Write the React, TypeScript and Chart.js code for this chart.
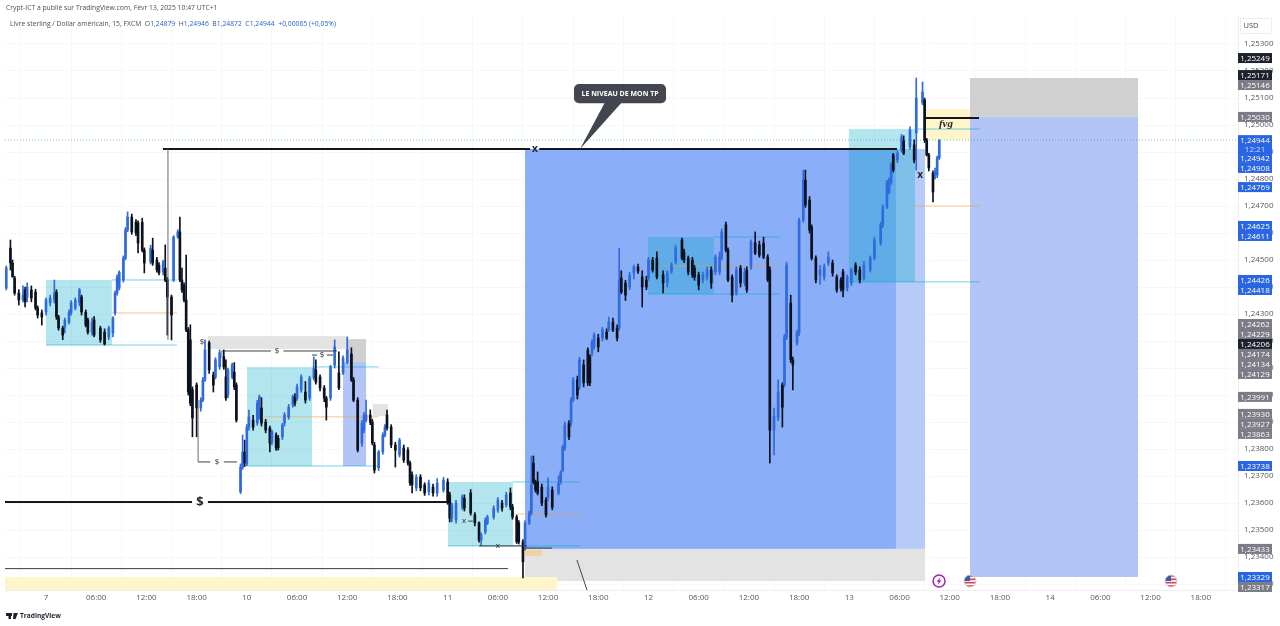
import React, { useEffect, useRef } from "react";
import { Chart, registerables } from "chart.js";

Chart.register(...registerables);

// Every price below is stored in points above 1.00000 (24537 = 1,24537).
// Bars are 15-minute bars counted from Feb 7 00:00: [bar, open, high, low, close]
type Candle = [number, number, number, number, number];

const feb7Candles: Candle[] = [
  [-19,24396,24478,24389,24470],[-17,24544,24574,24463,24489],[-16,24489,24500,24437,24437],[-15,24433,24440,24370,24378],
  [-13,24378,24390,24333,24352],[-11,24352,24404,24345,24370],[-10,24389,24400,24326,24345],[-9,24363,24415,24345,24400],
  [-7,24389,24404,24345,24359],[-5,24381,24392,24315,24322],[-4,24322,24330,24285,24296],[-2,24304,24315,24259,24289],
  [0,24307,24360,24296,24352],[2,24341,24370,24330,24359],[4,24352,24426,24341,24378],[5,24381,24390,24280,24289],
  [6,24289,24295,24240,24248],[8,24248,24255,24205,24222],[9,24252,24285,24230,24278],[11,24270,24315,24262,24307],
  [12,24304,24350,24296,24341],[14,24322,24360,24315,24352],[16,24341,24395,24330,24389],[17,24363,24370,24296,24307],
  [19,24307,24315,24252,24259],[20,24278,24285,24225,24233],[22,24233,24285,24222,24270],[23,24278,24290,24215,24222],
  [26,24248,24255,24195,24204],[28,24233,24245,24185,24189],[30,24215,24255,24205,24248],[32,24230,24290,24215,24285],
  [33,24304,24385,24296,24378],[34,24378,24445,24370,24437],[35,24396,24460,24389,24455],[37,24426,24515,24418,24507],
  [38,24507,24620,24500,24611],[39,24611,24678,24605,24659],[41,24659,24670,24595,24604],[43,24640,24650,24590,24600],
  [44,24637,24645,24526,24563],[46,24640,24655,24530,24537],[47,24537,24545,24452,24489],[50,24493,24555,24485,24544],
  [51,24537,24581,24480,24489],[53,24500,24510,24455,24463],[54,24481,24490,24445,24452],[56,24456,24500,24445,24493],
  [57,24470,24556,24420,24426],[58,24426,24435,24222,24363],[60,24363,24370,24204,24296],[61,24426,24590,24420,24585],
  [63,24585,24612,24580,24604],[64,24604,24659,24420,24426],[65,24426,24470,24380,24389],[66,24407,24415,24345,24352],
  [67,24352,24518,24235,24241],[68,24241,24250,24000,24011],[69,24204,24260,23960,23970],[70,24019,24030,23845,23915],
  [72,24037,24045,23845,23952],[74,23952,23990,23940,23981],[75,23981,24065,23975,24056],[76,24056,24204,24050,24167],
  [78,24193,24200,24080,24093],[80,24074,24085,24011,24037],[81,24067,24138,24060,24130],[83,24104,24167,24095,24156],
  [85,24141,24167,24095,24104],[86,24067,24130,23980,23989],[87,24000,24100,23990,24093],[89,24067,24118,24060,24111],
  [90,24085,24120,24020,24030],[91,24037,24045,23900,23907],
];

const feb10Candles: Candle[] = [
  [93,23641,23745,23635,23733],[94,23733,23852,23725,23789],[95,23789,23833,23735,23748],[96,23745,23890,23738,23881],
  [97,23881,23944,23870,23918],[99,23907,23925,23870,23881],[101,23896,23980,23888,23970],[102,23918,24000,23910,23993],
  [103,23952,23990,23885,23896],[105,23900,23910,23860,23870],[107,23878,23885,23789,23822],[108,23826,23870,23815,23863],
  [110,23852,23860,23795,23804],[111,23840,23850,23796,23804],[113,23845,23895,23835,23889],[114,23896,23935,23885,23926],
  [116,23918,23965,23910,23955],[118,23963,24000,23955,23993],[119,23993,24005,23960,23970],[120,23989,24040,23980,24030],
  [122,24019,24075,24010,24067],[124,24011,24050,23970,23981],[126,23989,24070,23980,24063],[128,24063,24141,24055,24100],
  [129,24093,24130,24040,24048],[131,24067,24075,24015,24026],[133,24026,24035,23975,23989],[134,23989,23995,23907,23955],
  [136,23989,24110,23980,24104],[138,24111,24204,24100,24178],[140,24082,24160,24020,24026],[142,24082,24145,24075,24137],
  [144,24122,24215,24115,24167],[146,24152,24175,24050,24056],[147,24056,24065,23975,23981],[149,23981,23990,23789,23796],
  [151,23822,23905,23810,23896],[152,23870,23935,23860,23926],[153,23907,23981,23900,23926],[155,23926,23945,23890,23900],
  [156,23900,23910,23815,23822],[157,23815,23825,23711,23722],[159,23730,23795,23720,23789],[161,23789,23860,23780,23852],
  [162,23852,23890,23845,23881],[163,23926,23944,23870,23878],[165,23881,23890,23805,23815],[167,23815,23825,23733,23796],
  [169,23778,23840,23770,23833],[171,23804,23815,23750,23759],[173,23796,23805,23740,23748],[174,23748,23755,23665,23674],
  [175,23704,23715,23637,23667],[177,23656,23705,23645,23696],[179,23696,23705,23645,23656],[181,23667,23675,23628,23637],
  [183,23641,23685,23630,23674],[185,23659,23670,23625,23637],[187,23637,23690,23625,23674],[190,23648,23695,23640,23685],
];

const feb11Candles: Candle[] = [
  [192,23678,23690,23595,23600],[193,23630,23640,23530,23544],[194,23544,23600,23530,23593],[196,23537,23610,23525,23600],
  [199,23585,23630,23575,23622],[200,23618,23630,23570,23581],[203,23637,23650,23555,23563],[205,23556,23565,23515,23526],
  [207,23526,23530,23455,23463],[208,23463,23490,23441,23482],[210,23493,23545,23485,23537],[211,23526,23555,23520,23548],
  [214,23548,23590,23540,23581],[216,23574,23620,23565,23611],[218,23600,23610,23570,23581],[220,23593,23640,23585,23630],
  [222,23637,23656,23575,23585],[223,23585,23595,23540,23548],[225,23548,23555,23450,23456],[226,23526,23535,23448,23456],
  [228,23456,23465,23323,23382],[229,23437,23535,23425,23526],[231,23526,23570,23520,23563],[232,23563,23774,23555,23667],
  [233,23748,23774,23670,23678],[234,23678,23685,23640,23648],[235,23678,23715,23630,23637],[237,23659,23670,23590,23600],
  [239,23611,23620,23548,23556],[240,23622,23693,23610,23659],[242,23648,23660,23575,23585],[245,23637,23700,23630,23674],
  [246,23678,23720,23670,23711],[247,23722,23815,23715,23808],[248,23804,23900,23795,23889],[250,23896,23905,23835,23845],
  [251,23896,23990,23885,23981],[252,23981,24065,23975,24056],[254,24056,24070,23985,24000],[255,24030,24140,24020,24130],
  [257,24111,24130,24030,24045],[259,24167,24175,24035,24045],[260,24141,24150,24035,24045],[261,24156,24205,24145,24196],
  [262,24178,24230,24170,24222],[264,24211,24225,24160,24178],[266,24211,24250,24200,24241],[268,24233,24245,24205,24211],
  [269,24241,24289,24235,24270],[271,24270,24285,24235,24241],[273,24248,24260,24200,24211],[274,24248,24544,24240,24426],
  [275,24433,24460,24375,24381],[277,24415,24425,24350,24370],[279,24400,24455,24390,24444],[281,24452,24481,24430,24474],
  [283,24474,24485,24450,24459],[285,24437,24460,24326,24400],[287,24426,24440,24390,24400],
];

const feb12Candles: Candle[] = [
  [288,24433,24510,24425,24500],[290,24500,24510,24455,24463],[292,24507,24530,24430,24437],[295,24445,24460,24378,24415],
  [297,24418,24460,24400,24452],[299,24459,24490,24450,24481],[301,24493,24555,24485,24544],[304,24574,24581,24500,24507],
  [305,24530,24540,24490,24500],[307,24507,24515,24445,24455],[309,24500,24510,24435,24445],[310,24470,24480,24425,24437],
  [312,24445,24455,24389,24407],[314,24426,24455,24415,24445],[316,24437,24475,24425,24463],[318,24463,24475,24395,24415],
  [320,24456,24520,24445,24511],[322,24456,24530,24445,24511],[323,24511,24615,24500,24604],[325,24630,24640,24530,24537],
  [326,24537,24545,24420,24426],[328,24437,24445,24345,24370],[330,24378,24475,24370,24463],[332,24470,24480,24400,24415],
  [334,24415,24470,24405,24455],[335,24463,24475,24380,24389],[337,24474,24575,24465,24567],[339,24563,24604,24520,24526],
  [341,24556,24570,24510,24518],[343,24563,24585,24505,24511],[345,24511,24520,24420,24426],[346,24463,24475,23748,23870],
  [348,23870,23952,23778,23922],[350,23915,24056,23905,24011],[352,24037,24045,23881,23955],[353,24037,24225,24030,24215],
  [354,24215,24492,24205,24481],[356,24341,24370,24120,24130],[357,24130,24140,24019,24111],[359,24193,24240,24185,24230],
  [360,24230,24655,24220,24648],[362,24648,24833,24640,24796],[363,24796,24833,24695,24704],[365,24722,24735,24600,24611],
  [366,24622,24630,24500,24507],[368,24507,24515,24415,24426],[370,24444,24480,24410,24463],[372,24437,24485,24425,24474],
  [374,24489,24530,24480,24511],[376,24489,24500,24440,24452],[378,24437,24445,24380,24389],[380,24426,24435,24385,24396],
  [381,24456,24465,24363,24389],[383,24396,24445,24385,24437],
];

const feb13Candles: Candle[] = [
  [385,24415,24470,24405,24463],[387,24481,24490,24445,24455],[389,24463,24475,24415,24426],[391,24433,24495,24425,24481],
  [394,24463,24515,24455,24507],[396,24507,24585,24500,24574],[399,24563,24640,24555,24630],[400,24630,24705,24620,24696],
  [402,24696,24795,24690,24785],[403,24752,24804,24745,24796],[404,24789,24860,24780,24852],[405,24889,24895,24825,24833],
  [407,24870,24905,24860,24896],[409,24907,24965,24900,24956],[410,24941,24960,24890,24896],[413,24919,24993,24910,24982],
  [415,24926,24945,24860,24870],[416,24970,25174,24833,25100],[419,25082,25159,25075,25122],[420,25093,25100,24935,24944],
  [421,24944,24950,24885,24889],[422,24889,24895,24830,24841],[424,24822,24830,24715,24752],[425,24815,24840,24800,24826],
  [426,24815,24885,24805,24878],[427,24878,24946,24872,24944],
];

const priceTicks = [1.233,1.234,1.235,1.236,1.237,1.238,1.239,1.24,1.241,1.242,1.243,1.244,1.245,1.246,1.247,1.248,1.249,1.25,1.251,1.252,1.253];
const timeTickBars = [0,24,48,72,96,120,144,168,192,216,240,264,288,312,336,360,384,408,432,456,480,504,528,552];
const timeTickLabels = ["7","06:00","12:00","18:00","10","06:00","12:00","18:00","11","06:00","12:00","18:00","12","06:00","12:00","18:00","13","06:00","12:00","18:00","14","06:00","12:00","18:00"];

const badgeLabels = ["1,25249","1,25171","1,25146","1,25030","1,24944","12:21","1,24942","1,24908","1,24769","1,24625","1,24611","1,24426","1,24418","1,24262","1,24229","1,24206","1,24174","1,24134","1,24129","1,23991","1,23930","1,23927","1,23863","1,23738","1,23433","1,23329","1,23317"];
const badgeAt = [25248,25185,25148,25030,24944,24911,24878,24841,24770,24626,24589,24426,24389,24263,24226,24189,24152,24115,24078,23993,23930,23893,23856,23737,23430,23326,23289];
const badgeKinds = ["k","k","g","g","b","b","b","b","b","b","b","b","b","g","g","k","g","g","g","g","g","g","g","b","g","b","g"];

// [bar from, bar to, price top, price bottom]
type Box = [number, number, number, number];
const greyBoxes: Box[] = [[77.4,143.9,24218,24170],[156.3,163.5,23967,23922],[229,420.2,23430,23311]];
const darkGreyBoxes: Box[] = [[143.9,153,24207,24122],[441.7,522,25174,25030]];
const sellBoxes: Box[] = [[142,153,24122,23737],[441.7,522,25030,23326]];
const yellowBoxes: Box[] = [[-19.6,244.3,23326,23278],[420.2,441.7,25059,24944]];
const bigBlueBox: Box = [229,406.3,24911,23430];
const lightBlueBox: Box = [406.3,420.2,24911,23430];
const orangeBox: Box = [229,237.1,23426,23404];
const tealBoxes: Box[] = [[0,31.5,24426,24185],[96.1,127.2,24104,23737],[192.2,223.2,23678,23441],[287.8,319.3,24585,24374],[383.8,415.4,24985,24419]];

// [bar from, bar to, price]
type HLine = [number, number, number];
const tealLines: HLine[] = [[31.5,62.6,24426],[0,62.6,24185],[127.2,159,24104],[96.1,159.7,23737],[223.2,255.3,23678],[192.2,255.3,23441],[319.3,350.9,24585],[287.8,350.9,24374],[415.4,446.5,24985],[383.8,446.5,24419]];
const orangeLines: HLine[] = [[31.5,62.6,24304],[104.7,159,23919],[223.2,255.3,23559],[295,350.9,24478],[415.4,446.5,24700]];
const thickLines: HLine[] = [[55.9,231.4,24911],[235.8,406.8,24911],[-19.6,69.8,23604],[77.4,192.2,23604],[420.2,446,25026]];
const thinLines: HLine[] = [[-19.6,220.8,23357],[84.1,107.5,24163],[113.5,139.1,24163],[127.2,129.6,24148],[134.2,137.2,24148],[72.7,78.5,23752],[85,91.3,23752],[207,229.9,23441],[229,241.9,23433],[201.8,204,23533]];
// [bar, price from, price to]
const greyVerticals: [number, number, number][] = [[58.3,24911,24204],[84.1,24163,24137],[72.7,23981,23752]];
const pointerLine = [253.8,23389,258.6,23278];

// [bar, price, text, font]
const chartNotes: [number, number, string, string][] = [
  [233.7,24911,"x","bold 10px 'Open Sans'"],[74.6,24196,"$","8px 'Open Sans'"],[110.4,24163,"$","8px 'Open Sans'"],
  [131.9,24148,"$","8px 'Open Sans'"],[81.7,23752,"$","8px 'Open Sans'"],[73.6,23604,"$","bold 13px 'Open Sans'"],
  [199.8,23533,"x","8px 'Open Sans'"],[216,23441,"x","8px 'Open Sans'"],[417.8,24815,"x","bold 10px 'Open Sans'"],
  [430.2,25004,"fvg","italic bold 11px 'Liberation Serif'"],
];

const callout = { bars: [252.4,296.4], prices: [25152,25081], tail: [267.2,275.3], tip: [255.3,24911], text: "LE NIVEAU DE MON TP" };
const lastPricePoints = 24944;
const eventFlagBars = [441.7,537.8];
const eventBoltBar = 426.9;
const eventPoints = 23311;

const headerLine = "Crypt-ICT a publié sur TradingView.com, Févr 13, 2025 10:47 UTC+1";
const symbolLine = "Livre sterling / Dollar américain, 15, FXCM";
const ohlcLabels = ["O","H","B","C"];
const ohlcValues = ["1,24879","1,24946","1,24872","1,24944"];
const changeText = "+0,00065 (+0,05%)";
const currencyLabel = "USD";
const brandLabel = "TradingView";

const UP = "#2f6bdc";
const DOWN = "#0c111e";
const UI_FONT = "'Open Sans'";

const toPrice = (p: number) => 1 + p / 100000;

const drawingsPlugin = {
  id: "drawings",
  beforeDatasetsDraw(chart: any) {
    const { ctx, scales } = chart;
    const X = (b: number) => scales.x.getPixelForValue(b);
    const Y = (p: number) => scales.y.getPixelForValue(toPrice(p));
    const box = (b: Box, c: string) => {
      ctx.fillStyle = c;
      ctx.fillRect(X(b[0]), Y(b[2]), X(b[1]) - X(b[0]), Y(b[3]) - Y(b[2]));
    };
    const hline = (l: HLine, c: string, w: number) => {
      ctx.strokeStyle = c; ctx.lineWidth = w;
      ctx.beginPath(); ctx.moveTo(X(l[0]), Y(l[2])); ctx.lineTo(X(l[1]), Y(l[2])); ctx.stroke();
    };
    ctx.save();
    greyBoxes.forEach((b) => box(b, "#e3e3e3"));
    darkGreyBoxes.forEach((b) => box(b, "#d0d0d1"));
    sellBoxes.forEach((b) => box(b, "#b3c4f7"));
    yellowBoxes.forEach((b) => box(b, "#fff5cb"));
    box(bigBlueBox, "#8aaef8");
    box(lightBlueBox, "#b6cbf8");
    box(orangeBox, "#f3cfa6");
    tealBoxes.forEach((b) => box(b, "rgba(0,170,200,0.3)"));
    tealLines.forEach((l) => hline(l, "rgba(0,172,200,0.55)", 1));
    orangeLines.forEach((l) => hline(l, "rgba(242,160,70,0.6)", 1));
    ctx.setLineDash([1, 2]);
    hline([-19.6, 569.8, lastPricePoints], "rgba(0,150,150,0.55)", 1);
    ctx.setLineDash([]);
    ctx.restore();
  },
  afterDatasetsDraw(chart: any) {
    const { ctx, scales, chartArea } = chart;
    const X = (b: number) => scales.x.getPixelForValue(b);
    const Y = (p: number) => scales.y.getPixelForValue(toPrice(p));
    const hline = (l: HLine, c: string, w: number) => {
      ctx.strokeStyle = c; ctx.lineWidth = w;
      ctx.beginPath(); ctx.moveTo(X(l[0]), Y(l[2])); ctx.lineTo(X(l[1]), Y(l[2])); ctx.stroke();
    };
    ctx.save();
    thickLines.forEach((l) => hline(l, "#15171c", 2));
    thinLines.forEach((l) => hline(l, "#3a3d45", 1));
    ctx.strokeStyle = "#6b6d74"; ctx.lineWidth = 1;
    greyVerticals.forEach((v) => { ctx.beginPath(); ctx.moveTo(X(v[0]), Y(v[1])); ctx.lineTo(X(v[0]), Y(v[2])); ctx.stroke(); });
    ctx.strokeStyle = "#44474f";
    ctx.beginPath(); ctx.moveTo(X(pointerLine[0]), Y(pointerLine[1])); ctx.lineTo(X(pointerLine[2]), Y(pointerLine[3])); ctx.stroke();

    ctx.textAlign = "center"; ctx.textBaseline = "middle"; ctx.fillStyle = "#25272d";
    chartNotes.forEach((n) => { ctx.font = n[3]; ctx.fillText(n[2], X(n[0]), Y(n[1])); });

    // callout
    const bx0 = X(callout.bars[0]), bx1 = X(callout.bars[1]), by0 = Y(callout.prices[0]), by1 = Y(callout.prices[1]);
    ctx.fillStyle = "#43464f";
    ctx.beginPath(); ctx.roundRect(bx0, by0, bx1 - bx0, by1 - by0, 5); ctx.fill();
    ctx.beginPath(); ctx.moveTo(X(callout.tail[0]), by1 - 1); ctx.lineTo(X(callout.tail[1]), by1 - 1); ctx.lineTo(X(callout.tip[0]), Y(callout.tip[1])); ctx.closePath(); ctx.fill();
    ctx.fillStyle = "#ffffff"; ctx.font = `bold 7px ${UI_FONT}`;
    ctx.fillText(callout.text, (bx0 + bx1) / 2, (by0 + by1) / 2);

    // event icons
    const ey = Y(eventPoints);
    eventFlagBars.forEach((b) => {
      const ex = X(b);
      ctx.save();
      ctx.beginPath(); ctx.arc(ex, ey, 6, 0, Math.PI * 2); ctx.clip();
      ctx.fillStyle = "#ffffff"; ctx.fillRect(ex - 6, ey - 6, 12, 12);
      ctx.fillStyle = "#d9485a";
      for (let i = 0; i < 4; i++) ctx.fillRect(ex - 6, ey - 6 + i * 3.4, 12, 1.7);
      ctx.fillStyle = "#3b5aa8"; ctx.fillRect(ex - 6, ey - 6, 6, 6);
      ctx.restore();
      ctx.strokeStyle = "#c7c9d0"; ctx.lineWidth = 1;
      ctx.beginPath(); ctx.arc(ex, ey, 6, 0, Math.PI * 2); ctx.stroke();
    });
    const lx = X(eventBoltBar);
    ctx.fillStyle = "#ffffff"; ctx.strokeStyle = "#9c27b0"; ctx.lineWidth = 1.5;
    ctx.beginPath(); ctx.arc(lx, ey, 6, 0, Math.PI * 2); ctx.fill(); ctx.stroke();
    ctx.fillStyle = "#9c27b0";
    ctx.beginPath(); ctx.moveTo(lx + 1.5, ey - 4); ctx.lineTo(lx - 2.5, ey + 0.8); ctx.lineTo(lx - 0.3, ey + 0.8); ctx.lineTo(lx - 1.5, ey + 4); ctx.lineTo(lx + 2.5, ey - 0.8); ctx.lineTo(lx + 0.3, ey - 0.8); ctx.closePath(); ctx.fill();

    // price badges on the right scale
    const colors: Record<string, string> = { k: "#1e222d", g: "#7b7c85", b: "#2a66e3" };
    const bl = chartArea.right, bw = 34, bh = 10;
    ctx.textAlign = "center";
    badgeLabels.forEach((t, i) => {
      const y = Y(badgeAt[i]);
      ctx.fillStyle = colors[badgeKinds[i]];
      ctx.fillRect(bl, y - bh / 2, bw, bh);
    });
    ctx.font = `8px ${UI_FONT}`;
    badgeLabels.forEach((t, i) => {
      ctx.fillStyle = t === "12:21" ? "#cfdcff" : "#ffffff";
      ctx.fillText(t, bl + bw / 2, Y(badgeAt[i]) + 0.5);
    });

    // USD box
    ctx.strokeStyle = "#eeeeef"; ctx.lineWidth = 1;
    ctx.strokeRect(1240.5, 18.5, 31, 15);
    ctx.fillStyle = "#4a4d55"; ctx.font = `7.5px ${UI_FONT}`;
    ctx.fillText(currencyLabel, 1251, 26);

    // header
    ctx.textAlign = "left"; ctx.textBaseline = "middle";
    ctx.fillStyle = "#4c4f57"; ctx.font = `6.8px ${UI_FONT}`;
    ctx.fillText(headerLine, 6, 8);
    let tx = 10;
    const seg = (s: string, c: string) => { ctx.fillStyle = c; ctx.fillText(s, tx, 24); tx += ctx.measureText(s).width; };
    seg(symbolLine + "  ", "#4c4f57");
    ohlcLabels.forEach((l, i) => { seg(l, "#4c4f57"); seg(ohlcValues[i] + "  ", "#2a62d0"); });
    seg(changeText, "#2a62d0");

    // logo
    ctx.fillStyle = "#1e222d";
    ctx.fillRect(6, 613, 6, 3); ctx.fillRect(8.5, 613, 2.5, 6);
    ctx.beginPath(); ctx.moveTo(13.5, 613); ctx.lineTo(18, 613); ctx.lineTo(15.5, 619); ctx.lineTo(13, 619); ctx.closePath(); ctx.fill();
    ctx.font = `bold 6.6px ${UI_FONT}`;
    ctx.fillText(brandLabel, 20, 616);
    ctx.restore();
  },
};

export default function App() {
  const ref = useRef<HTMLCanvasElement | null>(null);
  useEffect(() => {
    document.body.style.margin = "0";
    document.body.style.background = "#ffffff";
    const candles = [...feb7Candles, ...feb10Candles, ...feb11Candles, ...feb12Candles, ...feb13Candles];
    const colour = (c: Candle) => (c[4] >= c[1] ? UP : DOWN);
    const wick = (c: Candle) => ({ x: c[0], y: [toPrice(c[3]), toPrice(c[2])] });
    const body = (c: Candle) => ({ x: c[0], y: [toPrice(Math.min(c[1], c[4])), toPrice(Math.max(c[1], c[4]))] });
    const chart = new Chart(ref.current as HTMLCanvasElement, {
      type: "bar",
      data: {
        datasets: [
          { data: candles.map(wick) as any, backgroundColor: candles.map(colour), barThickness: 1, grouped: false, borderWidth: 0, borderSkipped: false, order: 2 } as any,
          { data: candles.map(body) as any, backgroundColor: candles.map(colour), barThickness: 2, grouped: false, borderWidth: 0, borderSkipped: false, order: 1 } as any,
        ],
      },
      options: {
        responsive: false,
        animation: false,
        parsing: { xAxisKey: "x", yAxisKey: "y" } as any,
        layout: { padding: { left: 5, top: 16, right: 0, bottom: 0 } },
        plugins: { legend: { display: false }, tooltip: { enabled: false } },
        scales: {
          x: {
            type: "linear",
            min: -19.6,
            max: 569.8,
            offset: false,
            afterBuildTicks: (s: any) => { s.ticks = timeTickBars.map((value) => ({ value })); },
            afterFit: (s: any) => { s.height = 36; },
            grid: { color: "#f7f7f9", drawTicks: false, lineWidth: 1 },
            border: { color: "#eeeeef" },
            ticks: {
              autoSkip: false, maxRotation: 0, padding: 3, color: "#55585f",
              font: { family: "Open Sans", size: 8 },
              callback: (v: any) => timeTickLabels[timeTickBars.indexOf(Number(v))] ?? "",
            },
          } as any,
          y: {
            type: "linear",
            position: "right",
            min: 1.232778,
            max: 1.254037,
            afterBuildTicks: (s: any) => { s.ticks = priceTicks.map((value) => ({ value })); },
            afterFit: (s: any) => { s.width = 42; },
            grid: { color: "#f7f7f9", drawTicks: false, lineWidth: 1 },
            border: { color: "#eeeeef" },
            ticks: {
              autoSkip: false, padding: 6, color: "#55585f",
              font: { family: "Open Sans", size: 8 },
              callback: (v: any) => Number(v).toFixed(5).replace(".", ","),
            },
          } as any,
        },
      },
      plugins: [drawingsPlugin as any],
    });
    return () => chart.destroy();
  }, []);
  return <canvas ref={ref} width={1280} height={626} style={{ display: "block", width: 1280, height: 626, filter: "blur(0.35px)" }} />;
}
